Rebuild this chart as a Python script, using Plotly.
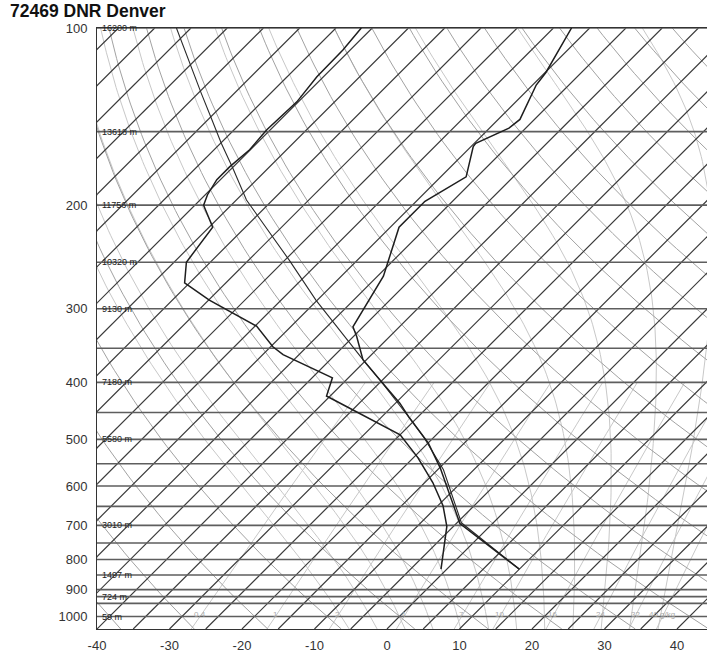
import numpy as np
import plotly.graph_objects as go

TITLE = "72469 DNR Denver"

# Observed temperature profile (pressure hPa, temperature degC)
temp_p = [100, 119, 125, 143, 148, 157, 159, 179, 197, 218, 264, 322, 334, 366, 396,
          434, 460, 488, 507, 559, 621, 695, 831]
temp_t = [-57.5, -54.9, -54.5, -52.0, -52.3, -54.8, -54.7, -51.5, -53.8, -53.8, -49.2,
          -46.4, -44.6, -40.5, -35.4, -29.4, -26.0, -22.3, -20.0, -14.9, -9.9, -4.5, 10.0]

# Dewpoint profile
dew_p = [100, 109, 121, 133.5, 149, 161, 172, 181, 192, 200, 218, 250, 271, 290, 321,
         348, 359, 393, 422, 491, 537, 592, 648, 703, 831]
dew_t = [-86.5, -86.0, -85.9, -85.2, -85.5, -85.1, -85.5, -85.5, -84.7, -83.8, -79.5,
         -78.3, -75.7, -69.9, -59.8, -54.7, -52.2, -42.2, -40.5, -25.0, -19.4, -13.9,
         -9.3, -5.9, -0.8]

# Lifted parcel path
parcel_p = [100, 116, 129, 143, 157, 174, 196, 248, 290, 366, 396, 463, 495, 563, 626, 693, 831]
parcel_t = [-112.0, -104.8, -99.6, -94.5, -89.9, -84.6, -78.6, -64.4, -55.2, -40.5, -35.4,
            -25.6, -21.5, -14.2, -9.2, -4.4, 10.0]

# Height labels on isobars
height_p = [100, 150, 200, 250, 300, 400, 500, 700, 850, 925, 1000]
height_lbl = ["16200 m", "13618 m", "11756 m", "10320 m", "9130 m", "7180 m",
              "5580 m", "3010 m", "1497 m", "724 m", "59 m"]

# Mixing ratio lines (g/kg)
mix_w = [0.4, 1, 2, 4, 7, 10, 16, 24, 32, 40]
mix_lbl = ["0.4", "1", "2", "4", "7", "10", "16", "24", "32", "40 g/kg"]

# Axis ticks
p_ticks = [100, 200, 300, 400, 500, 600, 700, 800, 900, 1000]
t_ticks = [-40, -30, -20, -10, 0, 10, 20, 30, 40]

# Diagram furniture
isobars = [100, 150, 200, 250, 300, 350, 400, 450, 500, 550, 600, 650, 700, 750,
           800, 850, 900, 925, 950, 1000]
isotherms = list(range(-125, 50, 5))
dry_theta0 = list(range(-40, 190, 10))
moist_t0 = [-8, -4, 0, 4, 8, 12, 16, 20, 24, 28, 32, 36]

P_BOT, P_TOP = 1050.0, 100.0
SKEW = 35.28
X_MIN, X_MAX = -40.0, 44.14


def skew_x(t, p):
    return np.asarray(t, float) + SKEW * np.log(P_BOT / np.asarray(p, float))


fig = go.Figure()


def add_family(xs_list, ps_list, color, width):
    X, Y = [], []
    for xs, ps in zip(xs_list, ps_list):
        X += list(xs) + [None]
        Y += list(ps) + [None]
    fig.add_trace(go.Scatter(x=X, y=Y, mode="lines", line=dict(color=color, width=width),
                             hoverinfo="skip", showlegend=False))


pgrid = np.exp(np.linspace(np.log(P_BOT), np.log(P_TOP), 80))

# mixing ratio lines (1050 -> 400 hPa)
pm = np.exp(np.linspace(np.log(P_BOT), np.log(400), 30))
mx, mp = [], []
for w in mix_w:
    e = w * pm / (622.0 + w)
    a = np.log(e / 6.112)
    td = 243.5 * a / (17.67 - a)
    mx.append(skew_x(td, pm)); mp.append(pm)
add_family(mx, mp, "#c8c8c8", 1)

# moist adiabats
Rd, cp, L, eps = 287.04, 1005.7, 2.501e6, 0.622


def dTdlnp(T, p):
    es = 6.112 * np.exp(17.67 * (T - 273.15) / (T - 29.65))
    rs = eps * es / (p - es)
    return (Rd * T + L * rs) / (cp + L * L * rs * eps / (Rd * T * T))


def moist_line(t0):
    out = {}
    for lp_end in (np.log(P_BOT), np.log(P_TOP)):
        n = 120
        lps = np.linspace(np.log(1000.0), lp_end, n)
        T = t0 + 273.15
        res = [(lps[0], T)]
        for i in range(n - 1):
            h = lps[i + 1] - lps[i]
            lp = lps[i]
            k1 = dTdlnp(T, np.exp(lp))
            k2 = dTdlnp(T + h * k1 / 2, np.exp(lp + h / 2))
            k3 = dTdlnp(T + h * k2 / 2, np.exp(lp + h / 2))
            k4 = dTdlnp(T + h * k3, np.exp(lp + h))
            T = T + h * (k1 + 2 * k2 + 2 * k3 + k4) / 6
            res.append((lps[i + 1], T))
        out[lp_end] = res
    pts = out[np.log(P_BOT)][::-1] + out[np.log(P_TOP)][1:]
    ps = np.exp(np.array([a for a, b in pts]))
    ts = np.array([b for a, b in pts]) - 273.15
    return skew_x(ts, ps), ps


ma_x, ma_p = [], []
for t0 in moist_t0:
    xx, pp = moist_line(t0)
    ma_x.append(xx); ma_p.append(pp)
add_family(ma_x, ma_p, "#c8c8c8", 1)

# dry adiabats
dx, dp = [], []
for th in dry_theta0:
    t = (th + 273.15) * (pgrid / 1000.0) ** 0.2857 - 273.15
    dx.append(skew_x(t, pgrid)); dp.append(pgrid)
add_family(dx, dp, "#a2a2a2", 1)

# isotherms
ix, ip = [], []
for t in isotherms:
    ix.append(skew_x([t, t], [P_BOT, P_TOP])); ip.append([P_BOT, P_TOP])
add_family(ix, ip, "#3a3a3a", 1.2)

# isobars
bx, bp = [], []
for p in isobars:
    bx.append([X_MIN, X_MAX]); bp.append([p, p])
add_family(bx, bp, "#5e5e5e", 1.6)

# sounding
fig.add_trace(go.Scatter(x=skew_x(parcel_t, parcel_p), y=parcel_p, mode="lines",
                         line=dict(color="#2a2a2a", width=1.1), showlegend=False))
fig.add_trace(go.Scatter(x=skew_x(dew_t, dew_p), y=dew_p, mode="lines",
                         line=dict(color="#1e1e1e", width=1.5), showlegend=False))
fig.add_trace(go.Scatter(x=skew_x(temp_t, temp_p), y=temp_p, mode="lines",
                         line=dict(color="#1e1e1e", width=1.5), showlegend=False))

ann = []
for p, s in zip(height_p, height_lbl):
    ann.append(dict(x=X_MIN + 0.4, y=np.log10(p), text=s, showarrow=False, xanchor="left",
                    yanchor="middle", font=dict(size=9, color="#222222",
                                                family="Liberation Sans, Arial, sans-serif")))
for w, s in zip(mix_w, mix_lbl):
    e = w * 1000.0 / (622.0 + w)
    a = np.log(e / 6.112)
    td = 243.5 * a / (17.67 - a)
    ann.append(dict(x=float(skew_x(td, 1000.0)), y=np.log10(1000.0) - 0.003, text=s,
                    showarrow=False, xanchor="center", yanchor="middle",
                    font=dict(size=8, color="#aaaaaa",
                              family="Liberation Sans, Arial, sans-serif")))

fig.update_layout(
    width=707, height=655,
    margin=dict(l=97, r=0, t=28, b=26, autoexpand=False),
    paper_bgcolor="white", plot_bgcolor="white",
    title=dict(text="<b>" + TITLE + "</b>", x=10 / 707, xanchor="left",
               y=1 - 10.5 / 655, yanchor="middle",
               font=dict(size=17.5, color="#111111", family="Liberation Sans, Arial, sans-serif")),
    annotations=ann,
    font=dict(family="Liberation Sans, Arial, sans-serif", size=13, color="#333333"),
)
fig.update_xaxes(range=[X_MIN, X_MAX], tickvals=t_ticks, ticktext=[str(t) for t in t_ticks],
                 showgrid=False, zeroline=False, showline=True, linecolor="#333333",
                 linewidth=1, mirror=True, ticks="", ticklabelstandoff=4,
                 tickfont=dict(size=13, color="#333333"))
fig.update_yaxes(type="log", range=[np.log10(P_BOT), np.log10(P_TOP)], tickvals=p_ticks,
                 ticktext=[str(p) for p in p_ticks], showgrid=False, zeroline=False,
                 showline=True, linecolor="#333333", linewidth=1, mirror=True, ticks="",
                 ticklabelstandoff=6, tickfont=dict(size=13, color="#333333"))

fig.write_html("out.html", config={"displayModeBar": False},
               post_script="document.body.style.margin='0';document.body.style.overflow='hidden';")
